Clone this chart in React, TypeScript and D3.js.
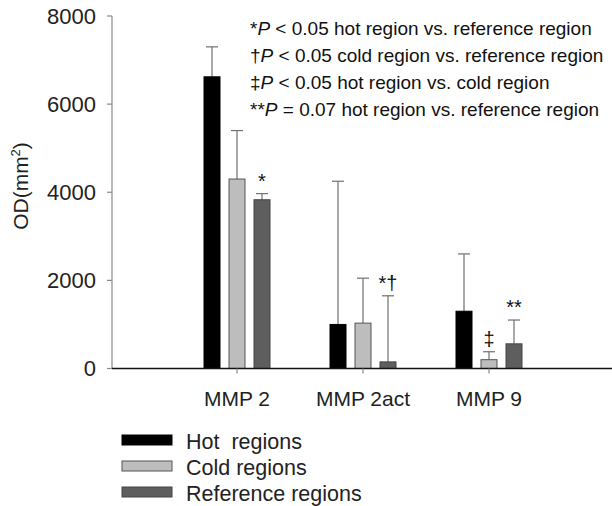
import * as d3 from 'd3'

const CATEGORIES = ['MMP 2', 'MMP 2act', 'MMP 9']
const SERIES = ['Hot  regions', 'Cold regions', 'Reference regions']

// mean OD per series, one value per category
const HOT = [6620, 1000, 1300]
const COLD = [4300, 1030, 200]
const REF = [3830, 150, 560]
// upper error bar end
const HOT_ERR = [7300, 4250, 2600]
const COLD_ERR = [5400, 2050, 380]
const REF_ERR = [3970, 1650, 1100]

const Y_TICKS = [0, 2000, 4000, 6000, 8000]

// significance markers: [category index, series index, label]
const MARKERS: [number, number, string][] = [
  [0, 2, '*'],
  [1, 2, '*†'],
  [2, 1, '‡'],
  [2, 2, '**'],
]

const NOTES = [
  { sym: '*', op: '<', val: '0.05', text: 'hot region vs. reference region' },
  { sym: '†', op: '<', val: '0.05', text: 'cold region vs. reference region' },
  { sym: '‡', op: '<', val: '0.05', text: 'hot region vs. cold region' },
  { sym: '**', op: '=', val: '0.07', text: 'hot region vs. reference region' },
]

const FILLS = ['#000000', '#bdbdbd', '#5e5e5e']
const STROKES = ['#000000', '#555555', '#444444']

const W = 612
const H = 506
const FONT = '"Liberation Sans", Arial, Helvetica, sans-serif'

export default function App() {
  const means = [HOT, COLD, REF]
  const errs = [HOT_ERR, COLD_ERR, REF_ERR]

  const y = d3.scaleLinear().domain([0, 8000]).range([368.5, 16])
  const x = d3.scalePoint<string>().domain(CATEGORIES).range([237, 489])
  const xs = d3.scaleBand<string>()
    .domain(SERIES)
    .range([-37.5, 37.5])
    .paddingInner(0.36)
    .paddingOuter(0.18)

  const axisLeft = 112
  const bw = xs.bandwidth()

  return (
    <svg width={W} height={H} style={{ position: 'absolute', left: 0, top: 0, background: '#fff' }} fontFamily={FONT}>
      <rect width={W} height={H} fill="#fff" />

      {/* y axis */}
      <line x1={axisLeft} x2={axisLeft} y1={y(8000)} y2={y(0)} stroke="#8a8a8a" strokeWidth={1.2} />
      {Y_TICKS.map(t => (
        <g key={t}>
          <line x1={axisLeft - 5} x2={axisLeft} y1={y(t)} y2={y(t)} stroke="#8a8a8a" strokeWidth={1.2} />
          <text x={96} y={y(t)} dy="0.36em" textAnchor="end" fontSize={22} fill="#222">{t}</text>
        </g>
      ))}
      <text transform={`translate(28, 186) rotate(-90)`} textAnchor="middle" fontSize={21} fill="#222">
        OD(mm<tspan fontSize={13} dy={-8}>2</tspan><tspan dy={8}>)</tspan>
      </text>

      {/* bars and error bars */}
      {CATEGORIES.map((c, ci) => (
        <g key={c} transform={`translate(${x(c)},0)`}>
          {SERIES.map((s, si) => {
            const x0 = xs(s)!
            const cx = x0 + bw / 2
            const v = means[si][ci]
            const e = errs[si][ci]
            return (
              <g key={s}>
                <line x1={cx} x2={cx} y1={y(v)} y2={y(e)} stroke="#707070" strokeWidth={1.2} />
                <line x1={cx - 6} x2={cx + 6} y1={y(e)} y2={y(e)} stroke="#707070" strokeWidth={1.2} />
                <rect x={x0} y={y(v)} width={bw} height={y(0) - y(v)} fill={FILLS[si]} stroke={STROKES[si]} strokeWidth={1} />
              </g>
            )
          })}
        </g>
      ))}

      {/* significance markers */}
      {MARKERS.map(([ci, si, label], i) => (
        <text
          key={i}
          x={x(CATEGORIES[ci])! + xs(SERIES[si])! + bw / 2}
          y={y(errs[si][ci]) - 6}
          textAnchor="middle"
          fontSize={20}
          fill="#111"
        >
          {label}
        </text>
      ))}

      {/* x axis */}
      <line x1={axisLeft} x2={W} y1={y(0)} y2={y(0)} stroke="#111" strokeWidth={1.3} />
      {CATEGORIES.map(c => (
        <g key={c}>
          <line x1={x(c)} x2={x(c)} y1={y(0)} y2={y(0) + 5} stroke="#8a8a8a" strokeWidth={1.2} />
          <text x={x(c)} y={406} textAnchor="middle" fontSize={21} fill="#222">{c}</text>
        </g>
      ))}

      {/* notes */}
      {NOTES.map((n, i) => (
        <text key={i} x={250} y={35 + i * 27} fontSize={19} fill="#111">
          {n.sym}<tspan fontStyle="italic">P</tspan>
          {` ${n.op} ${n.val} ${n.text}`}
        </text>
      ))}

      {/* legend */}
      {SERIES.map((s, si) => (
        <g key={s} transform={`translate(0, ${449 + si * 26})`}>
          <rect x={122} y={-14} width={50} height={10} fill={FILLS[si]} stroke={STROKES[si]} strokeWidth={1} />
          <text x={186} y={0} fontSize={21.5} fill="#222" style={{ whiteSpace: 'pre' }}>{s}</text>
        </g>
      ))}
    </svg>
  )
}
